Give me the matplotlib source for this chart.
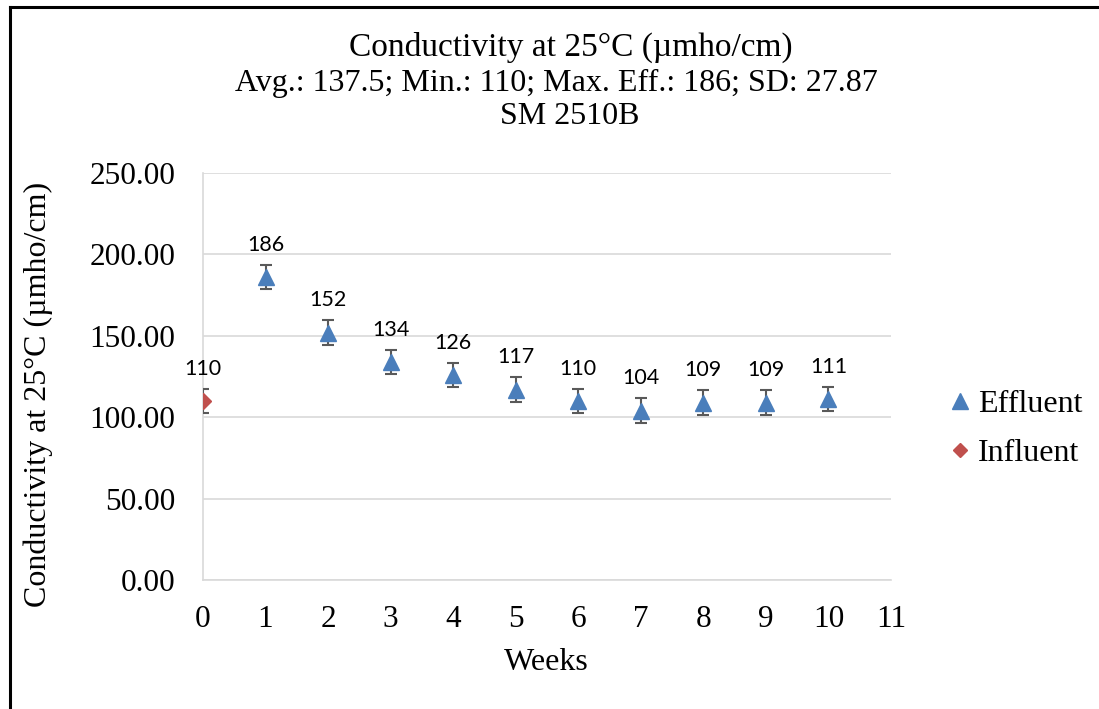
import numpy as np
import matplotlib.pyplot as plt
from matplotlib.lines import Line2D

# data
eff_weeks = [1, 2, 3, 4, 5, 6, 7, 8, 9, 10]
eff_vals = [186, 152, 134, 126, 117, 110, 104, 109, 109, 111]
inf_weeks = [0]
inf_vals = [110]
err = 7.5  # fixed error bar size

title_lines = ["Conductivity at 25°C (µmho/cm)",
               "Avg.: 137.5; Min.: 110; Max. Eff.: 186; SD: 27.87",
               "SM 2510B"]

serif = "Liberation Serif"
sans = "Lato"

fig = plt.figure(figsize=(10.99, 7.09), dpi=100)
ax = fig.add_axes([0.1847, 0.182, 0.6260, 0.574])

ax.errorbar(eff_weeks, eff_vals, yerr=err, fmt="^", color="#4A7EBB", ms=11,
            ecolor="#595959", elinewidth=1.5, capsize=4.3, capthick=1.5, zorder=3,
            label="Effluent")
ax.errorbar(inf_weeks, inf_vals, yerr=err, fmt="D", color="#C0504D", ms=8,
            ecolor="#595959", elinewidth=1.5, capsize=4.3, capthick=1.5, zorder=3,
            label="Influent")

# data labels above the error bars
for x, y in zip(eff_weeks + inf_weeks, eff_vals + inf_vals):
    ax.annotate(str(y), (x, y), xytext=(0, 16), textcoords="offset points",
                ha="center", va="bottom", fontsize=15.5, family=sans)

ax.set_xlim(0, 11)
ax.set_ylim(0, 250)
ax.set_xticks(range(0, 12))
ax.set_yticks(np.arange(0, 251, 50))
ax.set_yticklabels([f"{v:.2f}" for v in np.arange(0, 251, 50)])
ax.tick_params(length=0, labelsize=22.5)
ax.tick_params(axis="y", pad=20)
ax.tick_params(axis="x", pad=18)
for lab in ax.get_xticklabels() + ax.get_yticklabels():
    lab.set_family(serif)
ax.grid(axis="y", color="#D9D9D9", lw=1.2)
ax.set_axisbelow(True)
for s in ["top", "right"]:
    ax.spines[s].set_visible(False)
for s in ["left", "bottom"]:
    ax.spines[s].set_color("#D9D9D9")
    ax.spines[s].set_linewidth(1.2)

ax.set_xlabel("Weeks", family=serif, fontsize=23)
ax.set_ylabel("Conductivity at 25°C (µmho/cm)", family=serif, fontsize=23)
ax.xaxis.set_label_coords(0.4985, -0.203)
ax.yaxis.set_label_coords(-0.240, 0.457)
ax.xaxis.label.set_va("center")
ax.yaxis.label.set_va("center")

for line, xc, yc, fs in zip(title_lines, [571, 556, 570], [47, 83, 117], [24, 23, 23]):
    fig.text(xc / 1099, 1 - yc / 709, line, ha="center", va="center",
             family=serif, fontsize=fs)

handles = [Line2D([], [], marker="^", ls="", color="#4A7EBB", ms=11),
           Line2D([], [], marker="D", ls="", color="#C0504D", ms=7)]
fig.legend(handles, ["Effluent", "Influent"], loc="center left",
           bbox_to_anchor=(0.833, 0.395), frameon=False, handletextpad=0.05,
           handlelength=1.0, labelspacing=0.6, prop={"family": serif, "size": 23})

# outer frame (left and top edges visible)
fig.add_artist(Line2D([0.0091, 0.0091], [0, 0.99], transform=fig.transFigure,
                      color="black", lw=2.2))
fig.add_artist(Line2D([0.0091, 1.0], [0.99, 0.99], transform=fig.transFigure,
                      color="black", lw=2.2))

fig.savefig("out.png", dpi=100)
